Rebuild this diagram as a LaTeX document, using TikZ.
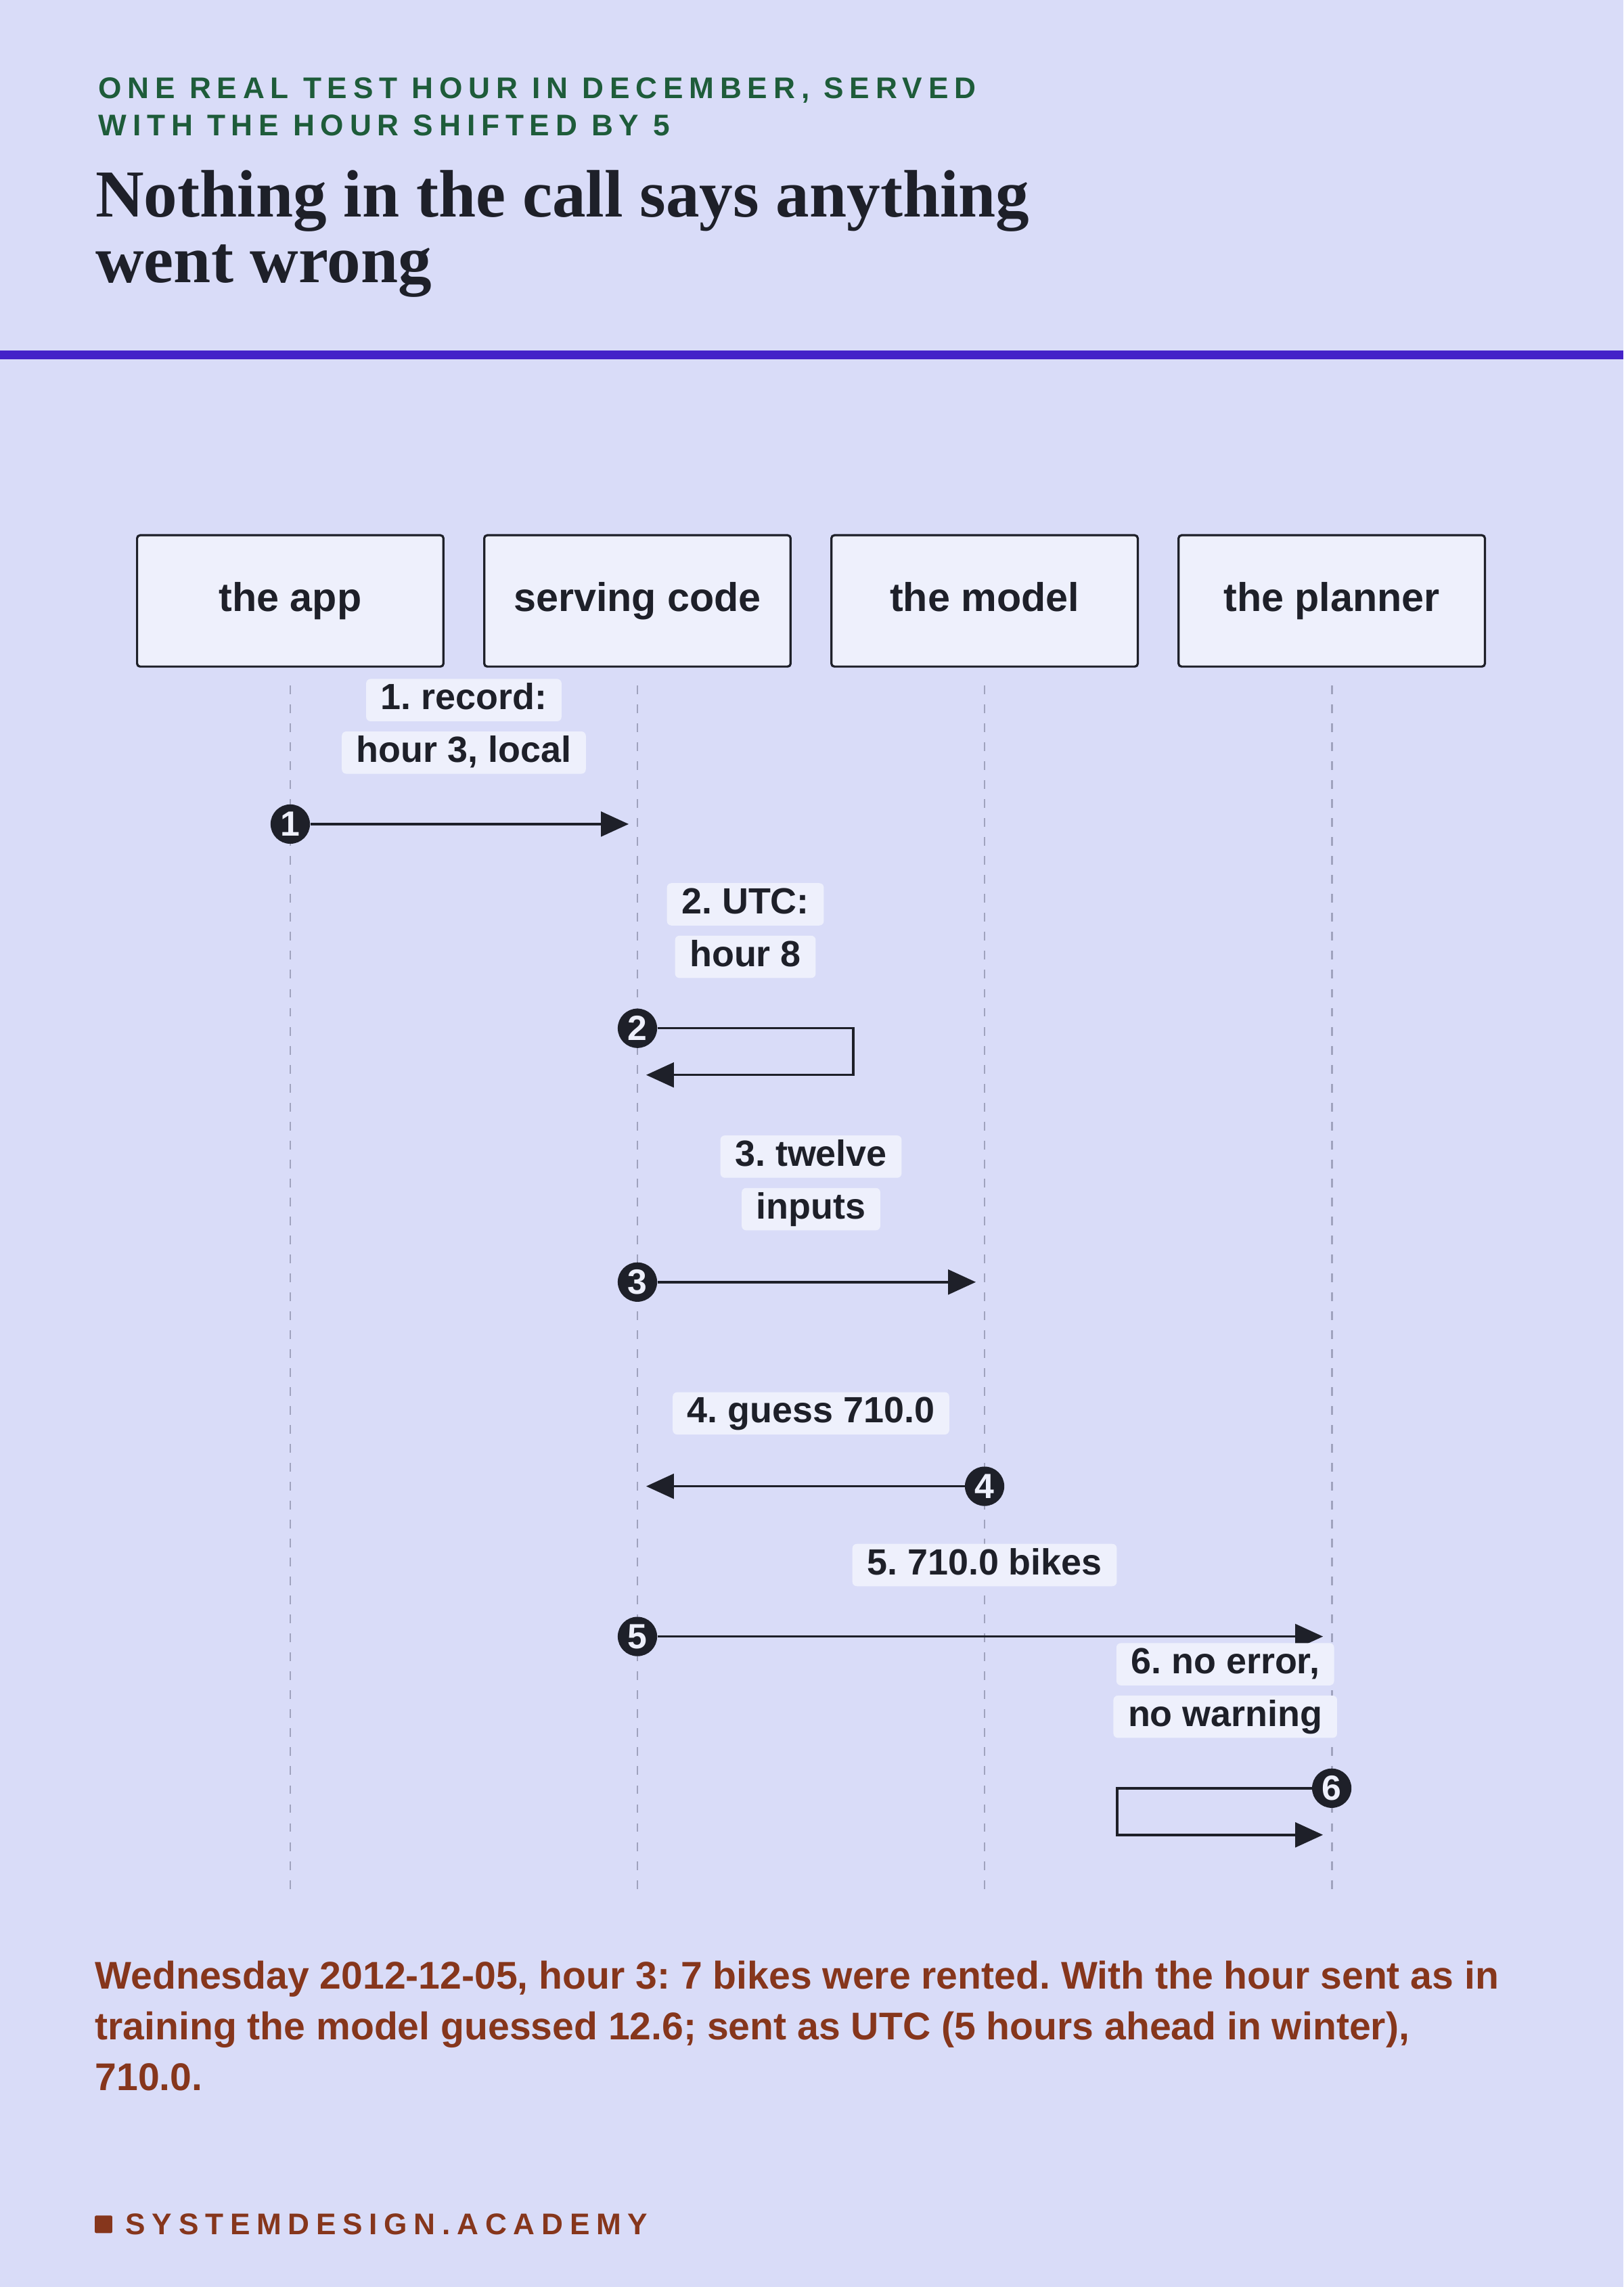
\documentclass[tikz,border=0pt]{standalone}
\usepackage{fontspec}
\setmainfont{Liberation Sans}
\newfontfamily\titlefont{Liberation Serif}
\usetikzlibrary{arrows.meta}
\definecolor{bg}{HTML}{D9DCF8}
\definecolor{ink}{HTML}{1E2029}
\definecolor{rule}{HTML}{4422C8}
\definecolor{grn}{HTML}{1E5C3A}
\definecolor{brn}{HTML}{86361C}
\definecolor{boxf}{HTML}{EEF0FC}
\definecolor{life}{HTML}{A0A3BE}
\frenchspacing
\begin{document}
\begin{tikzpicture}[x=1pt,y=-1pt,
  actor/.style={draw=ink,line width=1.5pt,fill=boxf,rounded corners=2pt,minimum width=210pt,minimum height=90pt,font=\fontsize{27.5}{30}\selectfont\bfseries,text=ink,text height=20pt,text depth=6pt},
  lab/.style={fill=boxf,rounded corners=3pt,inner xsep=10pt,inner ysep=3pt,font=\fontsize{25}{28}\selectfont\bfseries,text=ink,text height=18pt,text depth=5pt},
  num/.style={circle,fill=ink,text=boxf,inner sep=0pt,minimum size=27pt,font=\fontsize{24}{24}\selectfont\bfseries},
  msg/.style={draw=ink,line width=1.6pt,-{Triangle[length=19pt,width=17pt]}},
  lifeline/.style={draw=life,line width=1.3pt,dash pattern=on 6pt off 7pt}]
\useasboundingbox (0,0) rectangle (1113,1568);
\fill[bg] (0,0) rectangle (1113,1568);
\fill[rule] (0,240.5) rectangle (1113,246.5);
\node[anchor=west,text=grn,font=\fontsize{20.5}{24}\selectfont\bfseries\addfontfeatures{LetterSpace=20}] (k1) at (64,62) {ONE REAL TEST HOUR IN DECEMBER, SERVED};
\node[anchor=west,text=grn,font=\fontsize{20.5}{24}\selectfont\bfseries\addfontfeatures{LetterSpace=20}] (k2) at (64,86) {WITH THE HOUR SHIFTED BY 5};
\node[anchor=west,text=ink,font=\fontsize{46}{48}\selectfont\titlefont\bfseries] (t1) at (62,138) {Nothing in the call says anything};
\node[anchor=west,text=ink,font=\fontsize{46}{48}\selectfont\titlefont\bfseries] (t2) at (62,186) {went wrong};
\node[actor] (a) at (199,412) {the app};
\node[actor] (s) at (437,412) {serving code};
\node[actor] (m) at (675,412) {the model};
\node[actor] (p) at (913,412) {the planner};
\foreach \n/\x in {la/199,ls/437,lm/675,lp/913}{
  \coordinate (\n t) at (\x,470); \coordinate (\n b) at (\x,1297);
  \draw[lifeline] (\n t) -- (\n b);}
% 1
\node[lab] (l1a) at (318,480) {1. record:};
\node[lab] (l1b) at (318,516) {hour 3, local};
\node[num] (n1) at (199,565) {1};
\coordinate (e1) at (431,565);
\draw[msg] (n1) -- (e1);
% 2
\node[lab] (l2a) at (511,620) {2. UTC:};
\node[lab] (l2b) at (511,656) {hour 8};
\node[num] (n2) at (437,705) {2};
\coordinate (c2a) at (585,705); \coordinate (c2b) at (585,737); \coordinate (e2) at (443,737);
\draw[msg] (n2) -- (c2a) -- (c2b) -- (e2);
% 3
\node[lab] (l3a) at (556,793) {3. twelve};
\node[lab] (l3b) at (556,829) {inputs};
\node[num] (n3) at (437,879) {3};
\coordinate (e3) at (669,879);
\draw[msg] (n3) -- (e3);
% 4
\node[lab] (l4) at (556,969) {4. guess 710.0};
\node[num] (n4) at (675,1019) {4};
\coordinate (e4) at (443,1019);
\draw[msg] (n4) -- (e4);
% 5
\node[lab] (l5) at (675,1073) {5. 710.0 bikes};
\node[num] (n5) at (437,1122) {5};
\coordinate (e5) at (907,1122);
\draw[msg] (n5) -- (e5);
% 6
\node[lab] (l6a) at (840,1141) {6. no error,};
\node[lab] (l6b) at (840,1177) {no warning};
\node[num] (n6) at (913,1226) {6};
\coordinate (c6a) at (766,1226); \coordinate (c6b) at (766,1258); \coordinate (e6) at (907,1258);
\draw[msg] (n6) -- (c6a) -- (c6b) -- (e6);
% footer
\node[anchor=north west,text=brn,align=left,font=\fontsize{26.5}{35}\selectfont\bfseries,inner sep=0pt] (f) at (65,1344)
 {Wednesday 2012-12-05, hour 3: 7 bikes were rented. With the hour sent as in\\training the model guessed 12.6; sent as UTC (5 hours ahead in winter),\\710.0.};
\fill[brn,rounded corners=1pt] (65,1519) rectangle (77,1531);
\node[anchor=west,text=brn,font=\fontsize{20.5}{24}\selectfont\bfseries\addfontfeatures{LetterSpace=22},inner sep=0pt] (logo) at (86,1525) {SYSTEMDESIGN.ACADEMY};
\end{tikzpicture}
\end{document}
